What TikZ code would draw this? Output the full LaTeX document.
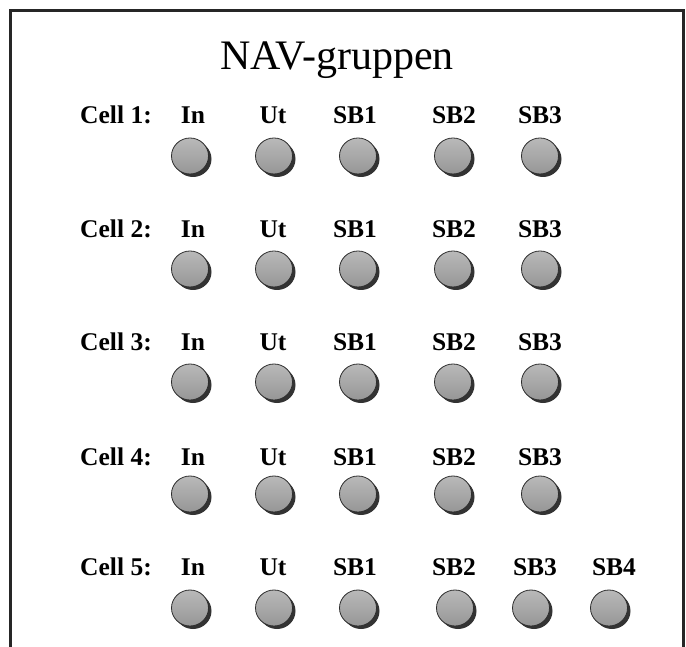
\documentclass[tikz,border=0pt]{standalone}
\usepackage{fontspec}
\setmainfont{Liberation Serif}
\usetikzlibrary{shapes.geometric,shadows}

\begin{document}
\begin{tikzpicture}[x=1pt, y=-1pt,
    frame/.style={line width=3pt, draw=black!85, line join=miter},
    title/.style={font=\fontsize{42}{42}\selectfont, anchor=base},
    celllabel/.style={font=\fontsize{25.5}{25.5}\selectfont\bfseries, anchor=base},
    portlabel/.style={font=\fontsize{25.5}{25.5}\selectfont\bfseries, anchor=base},
    knob/.style={ellipse, minimum width=37pt, minimum height=36pt, inner sep=0pt,
      draw=gray!35!black, line width=0.8pt, top color=gray!55, bottom color=gray!82,
      drop shadow={shadow xshift=3pt, shadow yshift=-3pt, fill=black!80, opacity=1}},
  ]
  \useasboundingbox (0,0) rectangle (686,647);

  % Frame, open at the bottom
  \draw[frame] (10,647) -- (10,11) -- (683,11) -- (683,647);

  % Title
  \node[title] (title) at (337,70) {NAV-gruppen};

  % Cells 1--4
  \foreach \r/\yl/\yb in {1/124/156, 2/238/269, 3/351/382, 4/465/494} {
    \node[celllabel] (cell\r) at (116,\yl) {Cell \r:};
    \foreach \c/\name/\xl/\xb in {1/In/193/190, 2/Ut/273/274, 3/SB1/355/358,
        4/SB2/454/453, 5/SB3/540/540} {
      \node[portlabel] (lbl\r-\c) at (\xl,\yl) {\name};
      \node[knob] (knob\r-\c) at (\xb,\yb) {};
    }
  }

  % Cell 5 has one more port
  \node[celllabel] (cell5) at (116,575) {Cell 5:};
  \foreach \c/\name/\xl/\xb in {1/In/193/190, 2/Ut/273/274, 3/SB1/355/358,
      4/SB2/454/455, 5/SB3/535/531, 6/SB4/614/609} {
    \node[portlabel] (lbl5-\c) at (\xl,575) {\name};
    \node[knob] (knob5-\c) at (\xb,608) {};
  }
\end{tikzpicture}
\end{document}
